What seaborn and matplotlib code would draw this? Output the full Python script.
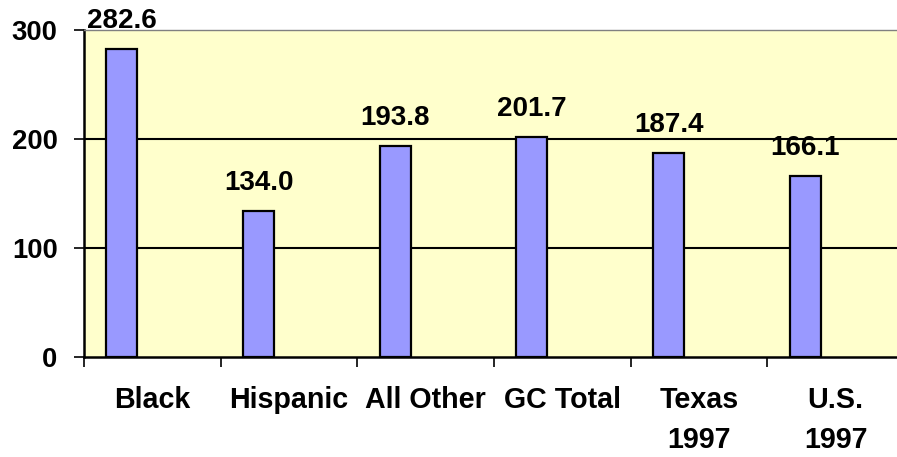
import matplotlib
matplotlib.use("Agg")
import matplotlib.pyplot as plt
import seaborn as sns
import numpy as np

# values
groups = ["Black", "Hispanic", "All Other", "GC Total", "Texas\n1997", "U.S.\n1997"]
rates = [282.6, 134.0, 193.8, 201.7, 187.4, 166.1]
rate_labels = ["282.6", "134.0", "193.8", "201.7", "187.4", "166.1"]
y_ticks = [0, 100, 200, 300]

sns.set_style("white")
plt.rcParams["font.family"] = ["Liberation Sans", "DejaVu Sans"]
plt.rcParams["font.weight"] = "bold"
plt.rcParams["text.color"] = "black"

fig = plt.figure(figsize=(8.97, 4.57), dpi=100)
ax = fig.add_axes([84 / 897, 100 / 457, 820 / 897, 327 / 457])
ax.set_facecolor("#FFFFCC")

sns.barplot(x=groups, y=rates, color="#9999FF", width=0.227,
            edgecolor="black", linewidth=1.6, saturation=1, ax=ax, zorder=3)

# bars sit left of the category centre (first of three series slots)
shift = 0.223
for p in ax.patches:
    p.set_x(p.get_x() - shift)

for i, (v, lab) in enumerate(zip(rates, rate_labels)):
    ax.annotate(lab, xy=(i - shift, v), xytext=(0, 15), textcoords="offset points",
                ha="center", va="baseline", fontsize=20, fontweight="bold",
                color="black", annotation_clip=False, zorder=5)

ax.set_xlim(-0.5, len(groups) - 0.5)
ax.set_ylim(0, 300)
ax.set_yticks(y_ticks)
ax.set_yticklabels([str(t) for t in y_ticks], fontsize=19.8, fontweight="bold")
for t in y_ticks[1:3]:
    ax.axhline(t, color="black", linewidth=1.5, zorder=1)

# boundary ticks, labels at centres
ax.set_xticks(np.arange(-0.5, len(groups), 1.0))
ax.set_xticklabels([])
ax.set_xticks(np.arange(len(groups)), minor=True)
ax.set_xticklabels(groups, minor=True, fontsize=20.6, fontweight="bold", linespacing=1.55)
ax.tick_params(axis="x", which="minor", bottom=True, length=0, pad=21)
ax.tick_params(axis="x", which="major", bottom=True, length=7, width=1.2,
               direction="out", color="black")
ax.tick_params(axis="y", left=True, length=7, width=1.2, direction="out",
               color="black", pad=12)
ax.tick_params(axis="both", which="both", labelcolor="black")

for side in ["left", "bottom"]:
    ax.spines[side].set_color("black")
    ax.spines[side].set_linewidth(1.8)
ax.spines["top"].set_color("#808080")
ax.spines["top"].set_linewidth(1.0)
ax.spines["right"].set_visible(False)
ax.set_xlabel("")
ax.set_ylabel("")

fig.savefig("out.png", dpi=100)
